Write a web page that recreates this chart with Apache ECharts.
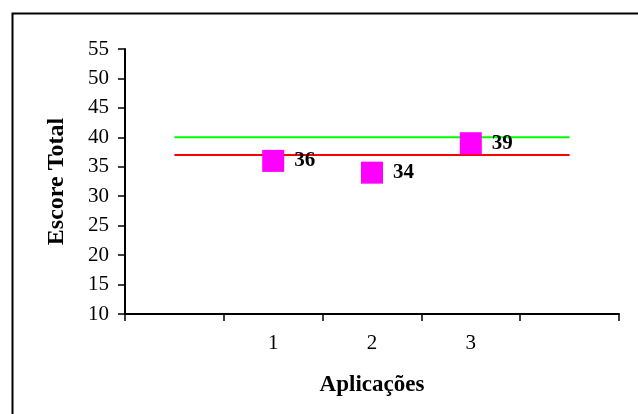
<!DOCTYPE html>
<html>
<head>
<meta charset="utf-8">
<script src="https://cdn.jsdelivr.net/npm/echarts@6/dist/echarts.min.js"></script>
<style>
html,body{margin:0;padding:0;background:#fff;}
#c{width:638px;height:414px;}
</style>
</head>
<body>
<div id="c"></div>
<script>
const categories = ['', '1', '2', '3', ''];
const scores = [null, 36, 34, 39, null];
const upperRef = [40, 40, 40, 40, 40];
const lowerRef = [37, 37, 37, 37, 37];
const yMin = 10, yMax = 55, yStep = 5;

const FONT = '"Liberation Serif", "Times New Roman", serif';
const chart = echarts.init(document.getElementById('c'), null, {renderer: 'canvas'});
chart.setOption({
  animation: false,
  backgroundColor: '#fff',
  graphic: [{
    type: 'rect', left: 10, top: 11, z: -1,
    shape: {x: 0, y: 0, width: 700, height: 500},
    style: {fill: 'none', stroke: '#000', lineWidth: 2}
  }],
  grid: {left: 125, right: 19, top: 49, bottom: 100, containLabel: false},
  xAxis: {
    type: 'category',
    data: categories,
    boundaryGap: true,
    name: 'Aplicações',
    nameLocation: 'middle',
    nameGap: 60,
    nameTextStyle: {fontFamily: FONT, fontSize: 23, fontWeight: 'bold', color: '#000'},
    axisLine: {lineStyle: {color: '#000', width: 2}},
    axisTick: {show: true, interval: 0, alignWithLabel: false, length: 7, lineStyle: {color: '#000', width: 1.5}},
    axisLabel: {interval: 0, margin: 19, fontFamily: FONT, fontSize: 21, color: '#000'},
    splitLine: {show: false}
  },
  yAxis: {
    type: 'value',
    min: yMin, max: yMax, interval: yStep,
    name: 'Escore Total',
    nameLocation: 'middle',
    nameGap: 56,
    nameRotate: 90,
    nameTextStyle: {fontFamily: FONT, fontSize: 24, fontWeight: 'bold', color: '#000'},
    axisLine: {show: true, lineStyle: {color: '#000', width: 2}},
    axisTick: {show: true, length: 7, lineStyle: {color: '#000', width: 1.5}},
    axisLabel: {margin: 16, fontFamily: FONT, fontSize: 21, color: '#000'},
    splitLine: {show: false}
  },
  series: [
    {
      type: 'line', data: upperRef, symbol: 'none', z: 1,
      lineStyle: {color: '#00FF00', width: 2}, silent: true
    },
    {
      type: 'line', data: lowerRef, symbol: 'none', z: 1,
      lineStyle: {color: '#FF0000', width: 2}, silent: true
    },
    {
      type: 'scatter', data: scores, symbol: 'rect', symbolSize: 22, z: 3,
      itemStyle: {color: '#FF00FF', opacity: 1},
      label: {
        show: true, position: 'right', distance: 10,
        fontFamily: FONT, fontSize: 21, fontWeight: 'bold', color: '#000',
        formatter: p => p.value
      }
    }
  ]
});
</script>
</body>
</html>
